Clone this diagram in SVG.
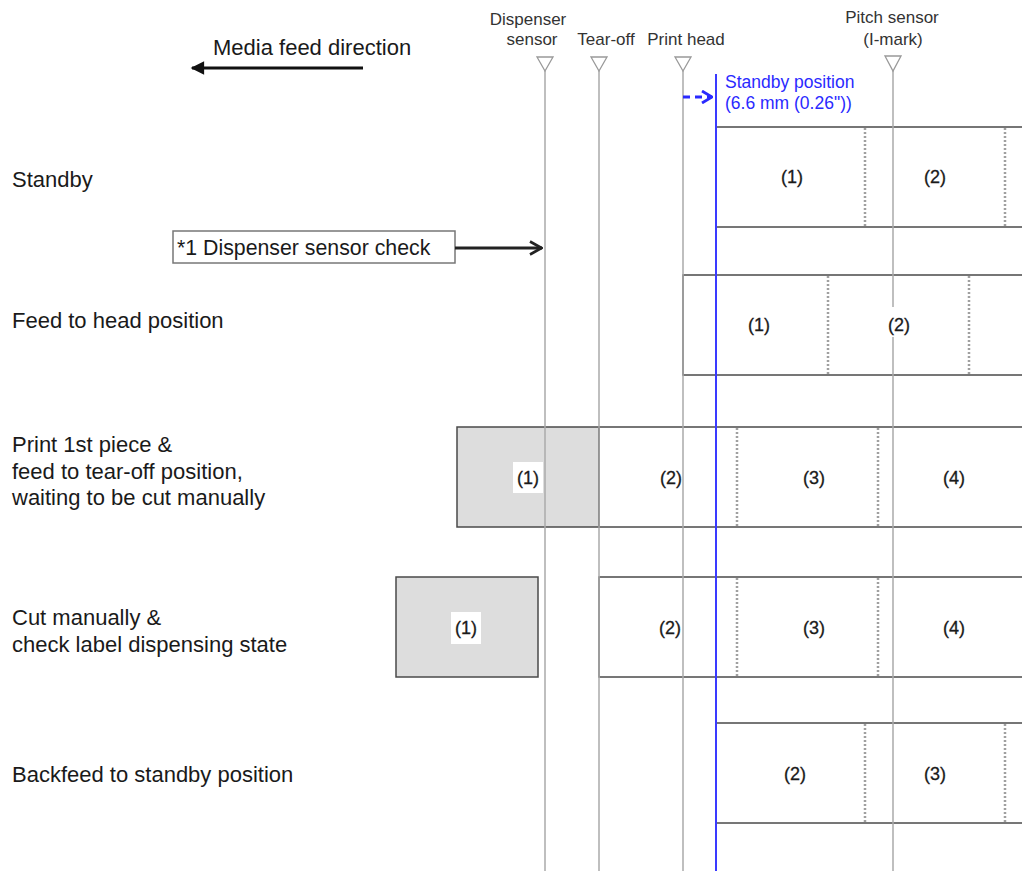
<svg xmlns="http://www.w3.org/2000/svg" width="1022" height="871" viewBox="0 0 1022 871">
<style>
text{font-family:"Liberation Sans",Arial,sans-serif;fill:#1a1a1a}
.lbl{font-size:22px}
.hdr{font-size:17px;fill:#333;text-anchor:middle}
.num{font-size:18px;text-anchor:middle;stroke:#1a1a1a;stroke-width:0.3}
.blue{font-size:17.5px;fill:#2a2aff}
.axis{stroke:#aaa;stroke-width:1.5;fill:none}
.tri{stroke:#999;stroke-width:1.3;fill:#fff}
.row{stroke:#4a4a4a;stroke-width:1.5;fill:#fff}
.gray{stroke:#4a4a4a;stroke-width:1.5;fill:#ddd}
.dot{stroke:#a0a0a0;stroke-width:2.5;stroke-dasharray:2 2;fill:none}
.bg{fill:#fff}
</style>
<defs>
<marker id="solid" viewBox="0 0 10 10" refX="9" refY="5" markerWidth="5" markerHeight="4.5" orient="auto"><path d="M0,0 L10,5 L0,10 z" fill="#111"/></marker>
<marker id="open" viewBox="0 0 14 16" refX="13" refY="8" markerUnits="userSpaceOnUse" markerWidth="14" markerHeight="16" orient="auto"><path d="M1,1.5 L12.5,8 L1,14.5" fill="none" stroke="#222" stroke-width="2.6"/></marker>
<marker id="openblue" viewBox="0 0 12 14" refX="11" refY="7" markerUnits="userSpaceOnUse" markerWidth="12" markerHeight="14" orient="auto"><path d="M1,1 L11,7 L1,13" fill="none" stroke="#2a2aff" stroke-width="2.8"/></marker>
</defs>
<rect width="1022" height="871" fill="#fff"/>

<g id="row-standby">
<rect class="row" x="716" y="127" width="320" height="100"/>
<line class="dot" x1="865" y1="128" x2="865" y2="226"/>
<line class="dot" x1="1005" y1="128" x2="1005" y2="226"/>
</g>
<g id="row-feed">
<rect class="row" x="683" y="275" width="353" height="100"/>
<line class="dot" x1="828" y1="276" x2="828" y2="374"/>
<line class="dot" x1="969" y1="276" x2="969" y2="374"/>
</g>
<g id="row-print">
<rect class="gray" x="457" y="427" width="142" height="100"/>
<rect class="row" x="599" y="427" width="437" height="100"/>
<line class="dot" x1="737" y1="428" x2="737" y2="526"/>
<line class="dot" x1="878" y1="428" x2="878" y2="526"/>
</g>
<g id="row-cut">
<rect class="gray" x="396" y="577" width="142" height="100"/>
<rect class="row" x="599" y="577" width="437" height="100"/>
<line class="dot" x1="737" y1="578" x2="737" y2="676"/>
<line class="dot" x1="878" y1="578" x2="878" y2="676"/>
</g>
<g id="row-backfeed">
<rect class="row" x="716" y="723" width="320" height="100"/>
<line class="dot" x1="865" y1="724" x2="865" y2="822"/>
<line class="dot" x1="1005" y1="724" x2="1005" y2="822"/>
</g>

<g id="sensor-dispenser">
<line class="axis" x1="545" y1="71" x2="545" y2="871"/>
<path class="tri" d="M537,57 L553,57 L545,71 z"/>
<text class="hdr" x="528" y="25">Dispenser</text>
<text class="hdr" x="532" y="45">sensor</text>
</g>
<g id="sensor-tearoff">
<line class="axis" x1="599" y1="71" x2="599" y2="871"/>
<path class="tri" d="M591,57 L607,57 L599,71 z"/>
<text class="hdr" x="606" y="45">Tear-off</text>
</g>
<g id="sensor-printhead">
<line class="axis" x1="683" y1="71" x2="683" y2="871"/>
<path class="tri" d="M675,57 L691,57 L683,71 z"/>
<text class="hdr" x="686" y="45">Print head</text>
</g>
<g id="sensor-pitch">
<line class="axis" x1="893" y1="71" x2="893" y2="871"/>
<path class="tri" d="M885,56 L901,56 L893,71 z"/>
<text class="hdr" x="892" y="23">Pitch sensor</text>
<text class="hdr" x="893" y="45">(I-mark)</text>
</g>

<g id="standby-position">
<line x1="716" y1="74" x2="716" y2="871" stroke="#3a3aff" stroke-width="2"/>
<text class="blue" x="725" y="88">Standby position</text>
<text class="blue" x="725" y="109">(6.6 mm (0.26"))</text>
</g>

<g id="numbers">
<text class="num" x="792" y="183">(1)</text>
<text class="num" x="935" y="183">(2)</text>
<text class="num" x="759" y="331">(1)</text>
<rect class="bg" x="886" y="307" width="26" height="30"/>
<text class="num" x="899" y="331">(2)</text>
<rect class="bg" x="513" y="462" width="30" height="31"/>
<text class="num" x="528" y="484">(1)</text>
<text class="num" x="671" y="484">(2)</text>
<text class="num" x="814" y="484">(3)</text>
<text class="num" x="954" y="484">(4)</text>
<rect class="bg" x="451" y="612" width="30" height="32"/>
<text class="num" x="466" y="634">(1)</text>
<text class="num" x="670" y="634">(2)</text>
<text class="num" x="814" y="634">(3)</text>
<text class="num" x="954" y="634">(4)</text>
<text class="num" x="795" y="780">(2)</text>
<text class="num" x="935" y="780">(3)</text>
</g>

<g id="step-labels">
<text class="lbl" x="12" y="187">Standby</text>
<text class="lbl" x="12" y="328">Feed to head position</text>
<text class="lbl" x="12" y="452">Print 1st piece &amp;</text>
<text class="lbl" x="12" y="479">feed to tear-off position,</text>
<text class="lbl" x="12" y="505">waiting to be cut manually</text>
<text class="lbl" x="12" y="625">Cut manually &amp;</text>
<text class="lbl" x="12" y="652">check label dispensing state</text>
<text class="lbl" x="12" y="782">Backfeed to standby position</text>
</g>

<g id="media-feed-direction">
<text class="lbl" x="213" y="55">Media feed direction</text>
</g>

<g id="dispenser-check">
<rect x="173" y="231" width="282" height="32" fill="#fff" stroke="#777" stroke-width="1.5"/>
<text x="177" y="255" style="font-size:21.3px">*1 Dispenser sensor check</text>
</g>

<g id="connectors">
<line x1="363" y1="68" x2="192" y2="68" stroke="#111" stroke-width="3" marker-end="url(#solid)"/>
<line x1="455" y1="248" x2="542" y2="248" stroke="#222" stroke-width="2.8" marker-end="url(#open)"/>
<line x1="683" y1="97" x2="712" y2="97" stroke="#2a2aff" stroke-width="2.8" stroke-dasharray="7 5" marker-end="url(#openblue)"/>
</g>
</svg>
